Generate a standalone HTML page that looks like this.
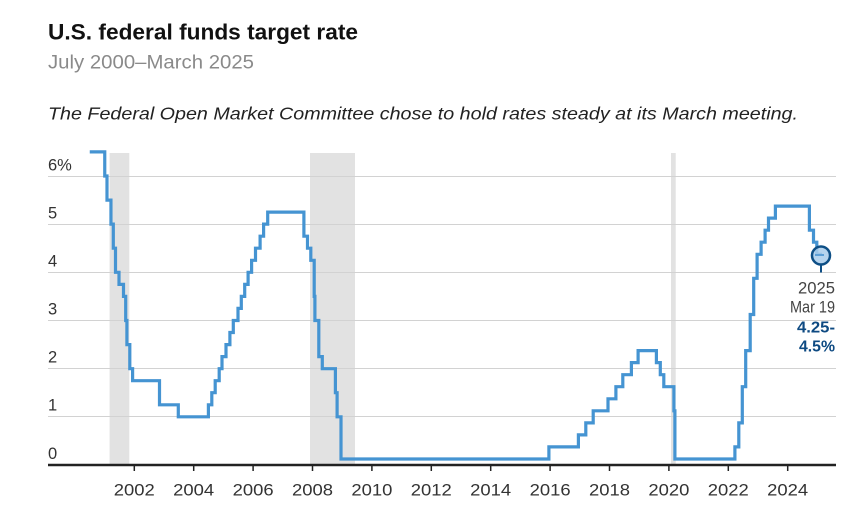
<!DOCTYPE html>
<html><head><meta charset="utf-8"><style>
html,body{margin:0;padding:0;background:#fff;}
svg{display:block;}
text{font-family:"Liberation Sans",sans-serif;}
</style></head><body>
<svg width="857" height="517" viewBox="0 0 857 517" xmlns="http://www.w3.org/2000/svg">
<rect width="857" height="517" fill="#fff"/>
<text x="48" y="39.5" font-size="22" font-weight="bold" fill="#111" textLength="310" lengthAdjust="spacingAndGlyphs">U.S. federal funds target rate</text>
<text x="48" y="68.5" font-size="19" fill="#8a8a8a" textLength="206" lengthAdjust="spacingAndGlyphs">July 2000–March 2025</text>
<text x="48" y="119.5" font-size="17.5" font-style="italic" fill="#222" textLength="750" lengthAdjust="spacingAndGlyphs">The Federal Open Market Committee chose to hold rates steady at its March meeting.</text>

<!-- recession shading -->
<rect x="109.6" y="153" width="19.7" height="312" fill="#e2e2e2"/>
<rect x="310" y="153" width="45" height="312" fill="#e2e2e2"/>
<rect x="671" y="153" width="4.7" height="312" fill="#e2e2e2"/>

<!-- gridlines -->
<g stroke="#d2d2d2" stroke-width="1">
<line x1="48" y1="176.5" x2="836" y2="176.5"/>
<line x1="48" y1="224.5" x2="836" y2="224.5"/>
<line x1="48" y1="272.5" x2="836" y2="272.5"/>
<line x1="48" y1="320.5" x2="836" y2="320.5"/>
<line x1="48" y1="368.5" x2="836" y2="368.5"/>
<line x1="48" y1="416.5" x2="836" y2="416.5"/>
</g>

<!-- y labels -->
<g font-size="16.5" fill="#333">
<text x="48" y="170.5">6%</text>
<text x="48" y="218.5">5</text>
<text x="48" y="266.5">4</text>
<text x="48" y="314.5">3</text>
<text x="48" y="362.5">2</text>
<text x="48" y="410.5">1</text>
<text x="48" y="459">0</text>
</g>

<!-- series -->
<path fill="none" stroke="#4594d2" stroke-width="3.2" stroke-linejoin="miter" stroke-linecap="butt" d="M89.75,151.9 H104.75 V176 H107 V200.1 H110.95 V224.15 H113.3 V248.2 H115.5 V272.3 H119 V284.4 H123.5 V296.4 H125.7 V320.5 H126.9 V344.6 H129.8 V368.7 H132.6 V380.7 H159.5 V404.8 H178.3 V416.8 H208.4 V404.8 H211.8 V392.7 H215.2 V380.7 H219.2 V368.7 H222 V356.6 H226 V344.6 H229.9 V332.5 H233.3 V320.5 H238 V308.4 H241.3 V296.4 H244.7 V284.4 H248.1 V272.3 H251.6 V260.3 H255.5 V248.2 H260.1 V236.2 H263.6 V224.15 H267.7 V212.1 H303.9 V236.2 H307.5 V248.2 H310.8 V260.3 H314.2 V296.4 H314.9 V320.5 H318.8 V356.6 H322.3 V368.7 H335.4 V392.7 H337.1 V416.8 H341 V459 H548.9 V446.9 H578.4 V434.9 H585.8 V422.9 H593.2 V410.8 H608 V398.8 H615.9 V386.7 H622.8 V374.7 H631.4 V362.6 H638.1 V350.6 H656.4 V362.6 H660.3 V374.7 H663.8 V386.7 H673.9 V410.8 H674.9 V459 H734.9 V446.9 H738.8 V422.9 H742.3 V386.7 H745.7 V350.6 H750.2 V314.5 H753.7 V278.3 H757.1 V254.3 H761.1 V242.2 H765.1 V230.2 H768.5 V218.1 H775.4 V206.1 H809.4 V230.2 H813.5 V242.2 H816.8 V254.3 H822"/>

<!-- axis -->
<line x1="48" y1="465" x2="836" y2="465" stroke="#222" stroke-width="2.5"/>
<g stroke="#222" stroke-width="1.5">
<line x1="134.3" y1="465" x2="134.3" y2="471"/>
<line x1="193.7" y1="465" x2="193.7" y2="471"/>
<line x1="253.1" y1="465" x2="253.1" y2="471"/>
<line x1="312.5" y1="465" x2="312.5" y2="471"/>
<line x1="371.9" y1="465" x2="371.9" y2="471"/>
<line x1="431.3" y1="465" x2="431.3" y2="471"/>
<line x1="490.7" y1="465" x2="490.7" y2="471"/>
<line x1="550.1" y1="465" x2="550.1" y2="471"/>
<line x1="609.5" y1="465" x2="609.5" y2="471"/>
<line x1="668.9" y1="465" x2="668.9" y2="471"/>
<line x1="728.3" y1="465" x2="728.3" y2="471"/>
<line x1="787.7" y1="465" x2="787.7" y2="471"/>
</g>
<g font-size="16.5" fill="#333" text-anchor="middle">
<text x="134.3" y="495.5" textLength="41" lengthAdjust="spacingAndGlyphs">2002</text>
<text x="193.7" y="495.5" textLength="41" lengthAdjust="spacingAndGlyphs">2004</text>
<text x="253.1" y="495.5" textLength="41" lengthAdjust="spacingAndGlyphs">2006</text>
<text x="312.5" y="495.5" textLength="41" lengthAdjust="spacingAndGlyphs">2008</text>
<text x="371.9" y="495.5" textLength="41" lengthAdjust="spacingAndGlyphs">2010</text>
<text x="431.3" y="495.5" textLength="41" lengthAdjust="spacingAndGlyphs">2012</text>
<text x="490.7" y="495.5" textLength="41" lengthAdjust="spacingAndGlyphs">2014</text>
<text x="550.1" y="495.5" textLength="41" lengthAdjust="spacingAndGlyphs">2016</text>
<text x="609.5" y="495.5" textLength="41" lengthAdjust="spacingAndGlyphs">2018</text>
<text x="668.9" y="495.5" textLength="41" lengthAdjust="spacingAndGlyphs">2020</text>
<text x="728.3" y="495.5" textLength="41" lengthAdjust="spacingAndGlyphs">2022</text>
<text x="787.7" y="495.5" textLength="41" lengthAdjust="spacingAndGlyphs">2024</text>
</g>

<!-- endpoint marker -->
<line x1="821" y1="264" x2="821" y2="272.5" stroke="#0e4f86" stroke-width="2"/>
<circle cx="821" cy="255.5" r="9" fill="#a9cdeb" fill-opacity="0.85" stroke="#0e4f86" stroke-width="2.5"/>
<line x1="815" y1="255" x2="824" y2="255" stroke="#5d9fd6" stroke-width="2"/>

<g text-anchor="end">
<text x="835" y="293.3" font-size="16.5" fill="#444" textLength="37" lengthAdjust="spacingAndGlyphs">2025</text>
<text x="835" y="312.3" font-size="16.5" fill="#444" textLength="45" lengthAdjust="spacingAndGlyphs">Mar 19</text>
<text x="835" y="332.7" font-size="16" fill="#0e4a82" font-weight="bold" textLength="38" lengthAdjust="spacingAndGlyphs">4.25-</text>
<text x="835" y="351.3" font-size="16" fill="#0e4a82" font-weight="bold" textLength="36" lengthAdjust="spacingAndGlyphs">4.5%</text>
</g>
</svg>
</body></html>
